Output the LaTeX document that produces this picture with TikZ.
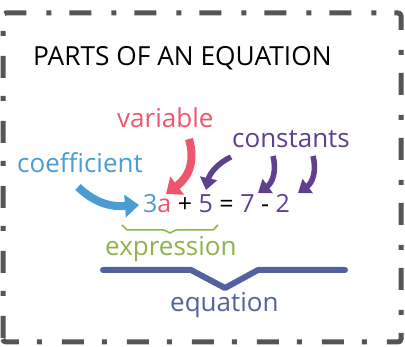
\documentclass[tikz,border=0pt]{standalone}
\usepackage{fontspec}
\setmainfont{Open Sans}
\usetikzlibrary{arrows.meta}
\definecolor{cred}{RGB}{240,85,110}
\definecolor{cblue}{RGB}{74,157,210}
\definecolor{cpurple}{RGB}{95,64,143}
\definecolor{cgreen}{RGB}{141,179,75}
\definecolor{cnavy}{RGB}{82,97,160}
\definecolor{cgray}{RGB}{85,85,85}
\tikzset{
  lbl/.style={inner sep=0pt, anchor=base west, font=\fontsize{26}{30}\selectfont},
  bigarrow/.style={line width=8pt, -{Triangle[length=14pt,width=22pt]}},
  smallarrow/.style={line width=5.5pt, cpurple, -{Triangle[length=12pt,width=17pt]}},
}
\begin{document}
\begin{tikzpicture}[x=1pt,y=-1pt]
\useasboundingbox (0,0) rectangle (405,347);
\draw[cgray, line width=5pt, rounded corners=3pt, dash pattern=on 22pt off 20pt on 5pt off 18pt, dash phase=64pt]
  (3,342) -- (3,13) -- (401,13) -- (401,342) -- cycle;
\node[lbl, font=\fontsize{26.3}{30}\selectfont] (title) at (33,66) {PARTS OF AN EQUATION};
\node[lbl, cred] (variable) at (117,128) {variable};
\node[lbl, cpurple] (constants) at (232,148) {constants};
\node[lbl, cblue] (coefficient) at (17,173) {coefficient};
\node[lbl, font=\fontsize{25}{30}\selectfont] (eq) at (143,213)
  {\textcolor{cblue}{3}\textcolor{cred}{a} + \textcolor{cpurple}{5} = \textcolor{cpurple}{7} - \textcolor{cpurple}{2}};
\node[lbl, cgreen] (expression) at (105,256) {expression};
\node[lbl, cnavy] (equation) at (170,312) {equation};
% arrows
\coordinate (cs) at (78,187); \coordinate (ce) at (139,205);
\draw[bigarrow, cblue] (cs) .. controls (96,204) and (112,207) .. (ce);
\coordinate (vs) at (189,139); \coordinate (ve) at (166,194);
\draw[bigarrow, cred] (vs) .. controls (195,160) and (190,176) .. (ve);
\coordinate (k1s) at (231,157); \coordinate (k1e) at (206,190);
\draw[smallarrow] (k1s) .. controls (220,162) and (210,172) .. (k1e);
\coordinate (k2s) at (273,156); \coordinate (k2e) at (258,193);
\draw[smallarrow] (k2s) .. controls (277,172) and (272,183) .. (k2e);
\coordinate (k3s) at (313,156); \coordinate (k3e) at (298,193);
\draw[smallarrow] (k3s) .. controls (317,172) and (312,183) .. (k3e);
% brace
\draw[cgreen, line width=1.5pt] (122,225) -- (127,230) -- (164,230) -- (170,233) -- (176,230) -- (213,230) -- (218,225);
% equation bracket
\draw[cnavy, line width=6pt, line cap=round, line join=round] (103,270) -- (191,270) -- (225,288) -- (258,270) -- (345,270);
\end{tikzpicture}
\end{document}
